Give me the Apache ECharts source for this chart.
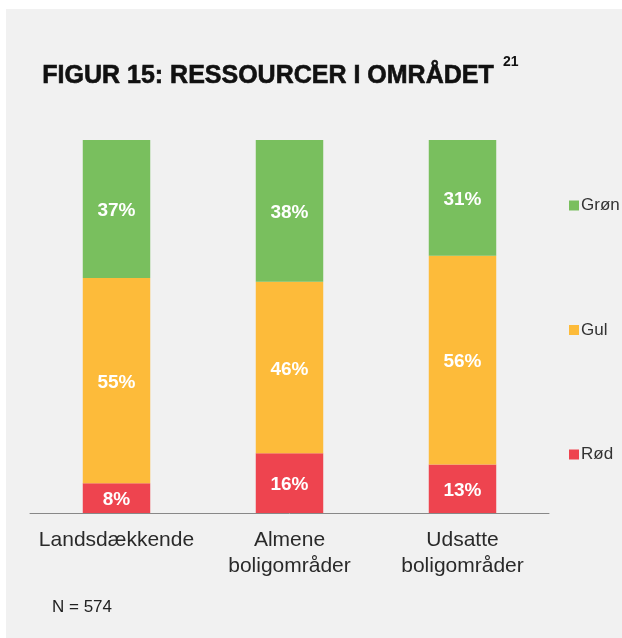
<!DOCTYPE html>
<html><head><meta charset="utf-8">
<script src="https://cdn.jsdelivr.net/npm/echarts@6/dist/echarts.min.js"></script>
<style>html,body{margin:0;padding:0;background:#fff}#c{width:622px;height:638px}</style>
</head><body><div id="c"></div>
<script>
const categories = ['Landsdækkende', 'Almene\nboligområder', 'Udsatte\nboligområder'];
const rod = [8, 16, 13];
const gul = [55, 46, 56];
const gron = [37, 38, 31];
const seriesNames = ['Rød', 'Gul', 'Grøn'];
const colors = ['#EE444F', '#FDBB3A', '#79BF5E'];
const titleText = 'FIGUR 15: RESSOURCER I OMRÅDET';
const footnote = '21';
const nText = 'N = 574';

const chart = echarts.init(document.getElementById('c'));
const lbl = {show: true, position: 'inside', color: '#fff', fontFamily: 'Liberation Sans', fontWeight: 'bold', fontSize: 19, offset: [0, 2], formatter: p => p.value + '%'};
const mk = (name, data, i) => ({name, type: 'bar', stack: 'a', data, barWidth: '39%', itemStyle: {color: colors[i]}, label: lbl});
chart.setOption({
  animation: false,
  graphic: [
    {type: 'rect', shape: {x: 6, y: 9, width: 616, height: 629}, style: {fill: '#f1f1f1'}, z: -10},
    {type: 'text', left: 42, top: 63, style: {text: titleText, font: 'bold 25px "Liberation Sans"', fill: '#111', stroke: '#111', lineWidth: 0.6}},
    {type: 'text', left: 503, top: 55, style: {text: footnote, font: 'bold 14px "Liberation Sans"', fill: '#111'}},
    {type: 'text', left: 52, top: 599, style: {text: nText, font: '17px "Liberation Sans"', fill: '#222'}}
  ],
  grid: {left: 30, right: 73, top: 140, bottom: 125, containLabel: false},
  legend: {orient: 'vertical', left: 564, top: 192, itemWidth: 10, itemHeight: 10, itemGap: 107.5,
    data: ['Grøn', 'Gul', 'Rød'], icon: 'rect',
    textStyle: {fontFamily: 'Liberation Sans', fontSize: 17, color: '#333', padding: [0, 0, 0, -3]}},
  xAxis: {type: 'category', data: categories, axisTick: {show: false},
    axisLine: {lineStyle: {color: '#888', width: 1}},
    axisLabel: {interval: 0, hideOverlap: false, fontFamily: 'Liberation Sans', fontSize: 21, color: '#2a2a2a', lineHeight: 26, margin: 14}},
  yAxis: {type: 'value', min: 0, max: 100, show: false, splitLine: {show: false}},
  series: [mk(seriesNames[0], rod, 0), mk(seriesNames[1], gul, 1), mk(seriesNames[2], gron, 2)]
});
</script></body></html>
